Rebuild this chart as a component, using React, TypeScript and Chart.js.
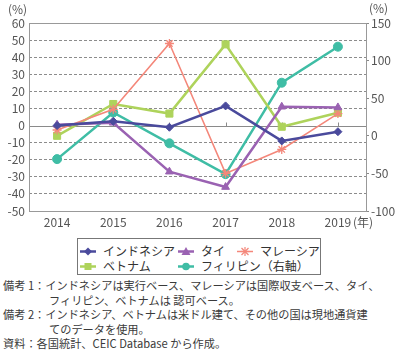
import React, { useEffect, useRef } from "react";
import { Chart, registerables } from "chart.js";

Chart.register(...registerables);

const years = ["2014", "2015", "2016", "2017", "2018", "2019"];
const indonesia = [0, 2.5, -1, 11.5, -9, -3.6];
const thai = [0.5, 1.6, -27, -36, 11, 10.6];
const malaysia = [-2.6, 9.5, 48, -28, -14, 7];
const vietnam = [-6, 12.6, 7, 47.5, -0.7, 7.5];
const philippines = [-31, 31, -10, -51, 70.6, 118.5];

const leftTicks = { min: -50, max: 60, step: 10 };
const rightTicks = { min: -100, max: 150, step: 50 };

const seriesNames = ["インドネシア", "タイ", "マレーシア", "ベトナム", "フィリピン（右軸）"];
const colors = ["#4a4a9c", "#9a62b2", "#f4877a", "#aed35b", "#3fbda5"];

const FONT = "'Noto Sans CJK JP', 'Noto Sans', sans-serif";
const TICK_COLOR = "#555";

const extras = {
  id: "extras",
  beforeDatasetsDraw(chart: any) {
    const { ctx, chartArea } = chart;
    const y = chart.scales.y;
    const x = chart.scales.x;
    ctx.save();
    const z = Math.round(y.getPixelForValue(0)) + 0.5;
    ctx.strokeStyle = "#8a8a8a";
    ctx.lineWidth = 1;
    ctx.beginPath();
    ctx.moveTo(chartArea.left, z);
    ctx.lineTo(chartArea.right, z);
    ctx.stroke();
    years.forEach((_, i) => {
      const px = Math.round(x.getPixelForValue(i)) + 0.5;
      ctx.beginPath();
      ctx.moveTo(px, z);
      ctx.lineTo(px, z - 4);
      ctx.stroke();
    });
    ctx.strokeStyle = "#999";
    ctx.strokeRect(
      Math.round(chartArea.left) + 0.5,
      Math.round(chartArea.top) + 0.5,
      Math.round(chartArea.right - chartArea.left),
      Math.round(chartArea.bottom - chartArea.top)
    );
    ctx.restore();
  },
  afterDraw(chart: any) {
    const { ctx, chartArea } = chart;
    const x = chart.scales.x;
    ctx.save();
    ctx.fillStyle = TICK_COLOR;
    ctx.font = `12px ${FONT}`;
    ctx.textBaseline = "middle";
    ctx.textAlign = "left";
    ctx.fillText("(%)", 8, 9);
    ctx.fillText("(%)", 369, 8);
    const lastX = x.getPixelForValue(years.length - 1);
    ctx.fillText("(年)", lastX + 15, chartArea.bottom + 11);
    ctx.restore();
  },
};

function LegendMarker({ idx }: { idx: number }) {
  const c = colors[idx];
  let marker: any = null;
  if (idx === 0) marker = <polygon points="8,1.5 12,5.5 8,9.5 4,5.5" fill={c} />;
  if (idx === 1) marker = <polygon points="8,1 12.5,9 3.5,9" fill={c} />;
  if (idx === 2)
    marker = (
      <g stroke={c} strokeWidth="1.2">
        <line x1="4.5" y1="2" x2="11.5" y2="9" />
        <line x1="11.5" y1="2" x2="4.5" y2="9" />
        <line x1="8" y1="1" x2="8" y2="10" />
        <line x1="3.5" y1="5.5" x2="12.5" y2="5.5" />
      </g>
    );
  if (idx === 3) marker = <rect x="4.5" y="2" width="7" height="7" fill={c} />;
  if (idx === 4) marker = <circle cx="8" cy="5.5" r="3.8" fill={c} />;
  return (
    <svg width="16" height="11" style={{ display: "block" }}>
      <line x1="0" y1="5.5" x2="16" y2="5.5" stroke={c} strokeWidth={idx === 2 ? 1.5 : 2.5} />
      {marker}
    </svg>
  );
}

function LegendItem({ idx, left, top }: { idx: number; left: number; top: number }) {
  return (
    <div
      style={{
        position: "absolute",
        left,
        top,
        display: "flex",
        alignItems: "center",
        whiteSpace: "nowrap",
        fontSize: 12,
        lineHeight: "14px",
        color: "#333",
      }}
    >
      <LegendMarker idx={idx} />
      <span style={{ marginLeft: 7 }}>{seriesNames[idx]}</span>
    </div>
  );
}

export default function App() {
  const ref = useRef<HTMLCanvasElement | null>(null);

  useEffect(() => {
    if (!ref.current) return;
    const mk = (label: string, data: number[], i: number, style: any, extra: any = {}) => ({
      label,
      data,
      borderColor: colors[i],
      backgroundColor: colors[i],
      pointBackgroundColor: colors[i],
      pointBorderColor: colors[i],
      pointStyle: style,
      borderWidth: 2.5,
      pointBorderWidth: 1,
      pointRadius: 4,
      tension: 0,
      yAxisID: "y",
      ...extra,
    });
    const chart = new Chart(ref.current, {
      type: "line",
      data: {
        labels: years,
        datasets: [
          mk(seriesNames[0], indonesia, 0, "rectRot", { pointRadius: 4 }),
          mk(seriesNames[1], thai, 1, "triangle", { pointRadius: 4.5 }),
          mk(seriesNames[2], malaysia, 2, "star", { borderWidth: 1.5, pointBorderWidth: 1.3, pointRadius: 4.5 }),
          mk(seriesNames[3], vietnam, 3, "rect", { pointRadius: 5 }),
          mk(seriesNames[4], philippines, 4, "circle", { pointRadius: 4.5, yAxisID: "y1" }),
        ],
      },
      options: {
        animation: false,
        responsive: false,
        maintainAspectRatio: false,
        layout: { padding: { top: 23, left: 0, right: 0, bottom: 0 } },
        plugins: { legend: { display: false }, tooltip: { enabled: false } },
        scales: {
          x: {
            type: "category",
            offset: true,
            grid: { display: false, drawTicks: false },
            border: { display: false },
            ticks: { color: TICK_COLOR, font: { family: FONT, size: 12 }, padding: 4, maxRotation: 0, autoSkip: false },
            afterFit(s: any) {
              s.height = 21;
            },
          },
          y: {
            position: "left",
            min: leftTicks.min,
            max: leftTicks.max,
            grid: {
              drawTicks: false,
              color: (c: any) => {
                const v = c.tick ? c.tick.value : null;
                return v === 0 || v === leftTicks.max || v === leftTicks.min ? "rgba(0,0,0,0)" : "#8c8c8c";
              },
              lineWidth: 1,
            },
            border: { display: false, dash: [3, 2] },
            ticks: {
              stepSize: leftTicks.step,
              autoSkip: false,
              color: TICK_COLOR,
              font: { family: FONT, size: 12 },
              padding: 4,
            },
            afterFit(s: any) {
              s.width = 29;
            },
          },
          y1: {
            position: "right",
            min: rightTicks.min,
            max: rightTicks.max,
            grid: { drawOnChartArea: false, drawTicks: true, tickLength: 3, color: "#888" },
            border: { display: false },
            ticks: {
              stepSize: rightTicks.step,
              autoSkip: false,
              color: TICK_COLOR,
              font: { family: FONT, size: 12 },
              padding: 2,
            },
            afterFit(s: any) {
              s.width = 34;
            },
          },
        },
      },
      plugins: [extras],
    } as any);
    return () => chart.destroy();
  }, []);

  const noteStyle: any = {
    position: "absolute",
    left: 3,
    whiteSpace: "nowrap",
    fontSize: 11.2,
    lineHeight: "14px",
    color: "#3a3a3a",
  };

  return (
    <div
      style={{
        position: "absolute",
        left: 0,
        top: 0,
        width: 400,
        height: 353,
        background: "#fff",
        fontFamily: FONT,
        overflow: "hidden",
      }}
    >
      <canvas ref={ref} width={400} height={232} style={{ display: "block", width: 400, height: 232 }} />
      <div
        style={{
          position: "absolute",
          left: 77,
          top: 238,
          width: 242,
          height: 35,
          border: "1px solid #777",
        }}
      />
      <LegendItem idx={0} left={80} top={244} />
      <LegendItem idx={1} left={178} top={244} />
      <LegendItem idx={2} left={237} top={244} />
      <LegendItem idx={3} left={80} top={259} />
      <LegendItem idx={4} left={178} top={259} />
      <div style={{ ...noteStyle, top: 278 }}>備考 1：インドネシアは実行ベース、マレーシアは国際収支ベース、タイ、</div>
      <div style={{ ...noteStyle, top: 292.5, left: 49 }}>フィリピン、ベトナムは 認可ベース。</div>
      <div style={{ ...noteStyle, top: 307 }}>備考 2：インドネシア、ベトナムは米ドル建て、その他の国は現地通貨建</div>
      <div style={{ ...noteStyle, top: 321.5, left: 49 }}>てのデータを使用。</div>
      <div style={{ ...noteStyle, top: 336 }}>資料：各国統計、CEIC Database から作成。</div>
    </div>
  );
}
